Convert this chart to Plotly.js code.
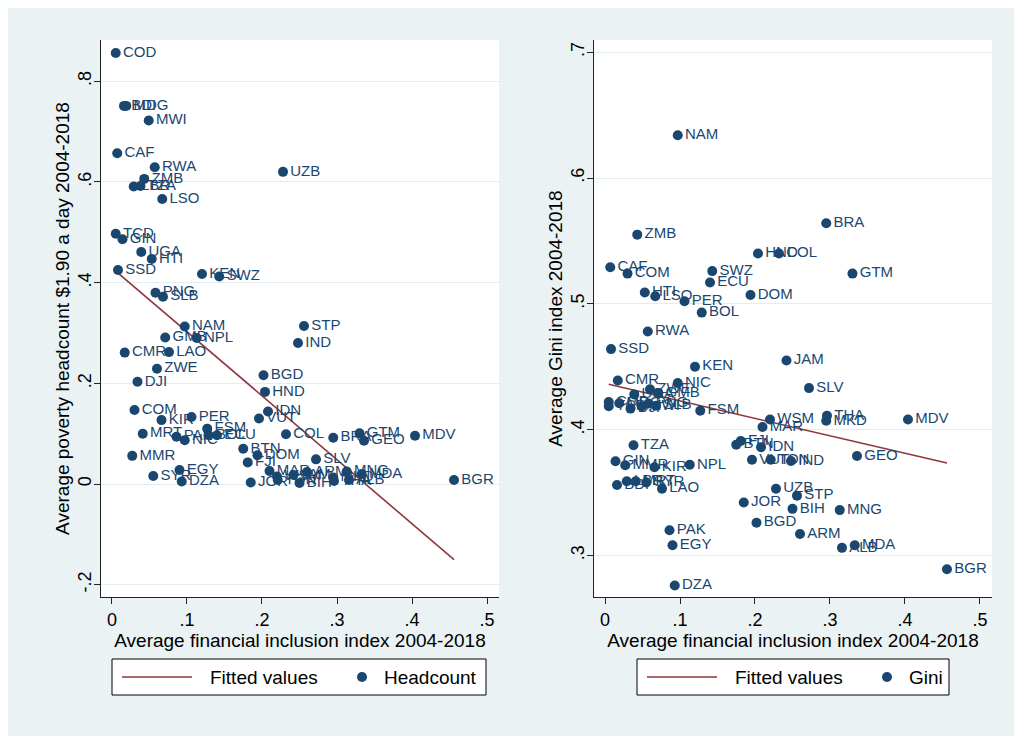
<!DOCTYPE html>
<html>
<head>
<meta charset="utf-8">
<script src="https://cdn.plot.ly/plotly-3.0.1.min.js"></script>
<style>
  html, body { margin:0; padding:0; background:#ffffff; width:1014px; height:736px; overflow:hidden; }
  #chart { position:absolute; left:8px; top:8px; width:1006px; height:728px; }
</style>
</head>
<body>
<div id="chart"></div>
<script>
// ---- data ----
const countries = ['COD','BDI','MDG','MWI','CAF','RWA','ZMB','LBR','TZA','LSO','UZB','TCD','GIN','UGA','HTI','SSD','KEN','SWZ','PNG','SLB','NAM','GMB','NPL','STP','IND','CMR','LAO','ZWE','DJI','BGD','HND','COM','IDN','KIR','PER','VUT','MRT','FSM','PAK','NIC','BOL','ECU','COL','BRA','GTM','GEO','MDV','MMR','BTN','DOM','FJI','SLV','EGY','SYR','DZA','JOR','BIH','MAR','WSM','TON','JAM','ARM','THA','MKD','MNG','ALB','MDA','BGR'];
const finIndex = [0.005,0.016,0.019,0.049,0.007,0.057,0.043,0.029,0.038,0.067,0.228,0.005,0.014,0.039,0.053,0.008,0.120,0.143,0.058,0.068,0.097,0.071,0.113,0.256,0.248,0.017,0.076,0.060,0.034,0.202,0.204,0.030,0.208,0.066,0.106,0.196,0.041,0.127,0.086,0.097,0.129,0.140,0.232,0.295,0.330,0.336,0.404,0.027,0.175,0.194,0.181,0.272,0.090,0.055,0.093,0.185,0.250,0.210,0.220,0.221,0.242,0.260,0.296,0.295,0.313,0.316,0.333,0.456];
const headcount = [0.856,0.751,0.751,0.722,0.657,0.629,0.606,0.591,0.592,0.566,0.620,0.497,0.486,0.461,0.447,0.425,0.417,0.412,0.380,0.372,0.313,0.291,0.290,0.314,0.280,0.261,0.262,0.229,0.203,0.216,0.183,0.147,0.144,0.127,0.133,0.130,0.100,0.110,0.094,0.087,0.097,0.097,0.099,0.092,0.101,0.086,0.096,0.056,0.070,0.057,0.043,0.049,0.028,0.016,0.005,0.003,0.002,0.026,0.015,0.008,0.018,0.024,0.006,0.013,0.025,0.008,0.020,0.008];
const gini = [0.422,0.356,0.421,0.4185,0.529,0.478,0.555,0.359,0.3875,0.506,0.353,0.4185,0.3748,0.428,0.509,0.464,0.450,0.526,0.4207,0.419,0.634,0.429,0.372,0.3475,0.375,0.439,0.353,0.432,0.4167,0.326,0.540,0.524,0.386,0.370,0.502,0.376,0.359,0.415,0.320,0.437,0.493,0.517,0.540,0.564,0.524,0.379,0.408,0.3716,0.388,0.507,0.391,0.433,0.308,0.358,0.276,0.342,0.337,0.402,0.408,0.376,0.455,0.317,0.411,0.407,0.336,0.306,0.308,0.289];
const fitX = [0.005, 0.456];
const headFit = [0.423, -0.150];
const giniFit = [0.4360, 0.3734];
const xTicks = [0, 0.1, 0.2, 0.3, 0.4, 0.5];
const xTickText = ['0', '.1', '.2', '.3', '.4', '.5'];
const headTicks = [-0.2, 0, 0.2, 0.4, 0.6, 0.8];
const headTickText = ['-.2', '0', '.2', '.4', '.6', '.8'];
const giniTicks = [0.3, 0.4, 0.5, 0.6, 0.7];
const giniTickText = ['.3', '.4', '.5', '.6', '.7'];
const xTitle = 'Average financial inclusion index 2004-2018';
const headTitle = 'Average poverty headcount $1.90 a day 2004-2018';
const giniTitle = 'Average Gini index 2004-2018';
const fitName = 'Fitted values';
const headName = 'Headcount';
const giniName = 'Gini';

// ---- styles ----
const NAVY = '#1a476f';
const MAROON = '#90353b';
const FONT = 'Liberation Sans, Arial, Helvetica, sans-serif';
const W = 1006, H = 728, OFF = 8;
const px = X => (X - OFF) / W;          // page pixel -> paper x
const py = Y => 1 - (Y - OFF) / H;      // page pixel -> paper y

function fitTrace(y, xa, ya) {
  return { x: fitX, y: y, xaxis: xa, yaxis: ya, mode: 'lines', name: fitName,
    line: { color: MAROON, width: 1.6 }, showlegend: false, hoverinfo: 'skip' };
}
function ptsTrace(y, name, xa, ya) {
  return { x: finIndex, y: y, text: countries, xaxis: xa, yaxis: ya, mode: 'markers+text', name: name,
    marker: { color: NAVY, size: 10 }, textposition: 'middle right',
    textfont: { color: NAVY, size: 15, family: FONT }, cliponaxis: false, showlegend: false };
}

const data = [
  fitTrace(headFit, 'x', 'y'),
  ptsTrace(headcount, headName, 'x', 'y'),
  fitTrace(giniFit, 'x2', 'y2'),
  ptsTrace(gini, giniName, 'x2', 'y2')
];

// ---- legends (one boxed key under each panel) ----
const shapes = [], annotations = [];
function addLegend(left, right, label2) {
  const top = 659, bot = 695, mid = 677;
  shapes.push({ type: 'rect', xref: 'paper', yref: 'paper', x0: px(left), x1: px(right), y0: py(bot), y1: py(top),
    line: { color: '#000', width: 1 }, fillcolor: '#ffffff', layer: 'above' });
  shapes.push({ type: 'line', xref: 'paper', yref: 'paper', x0: px(left + 10), x1: px(left + 80), y0: py(mid), y1: py(mid),
    line: { color: MAROON, width: 1.6 }, layer: 'above' });
  shapes.push({ type: 'circle', xref: 'paper', yref: 'paper', x0: px(left + 245), x1: px(left + 255), y0: py(mid + 5), y1: py(mid - 5),
    line: { color: NAVY, width: 0 }, fillcolor: NAVY, layer: 'above' });
  annotations.push({ xref: 'paper', yref: 'paper', x: px(left + 96), y: py(mid), xanchor: 'left', yanchor: 'middle',
    text: fitName, showarrow: false, font: { size: 19, color: '#000', family: FONT } });
  annotations.push({ xref: 'paper', yref: 'paper', x: px(left + 270), y: py(mid), xanchor: 'left', yanchor: 'middle',
    text: label2, showarrow: false, font: { size: 19, color: '#000', family: FONT } });
}
addLegend(112, 486, headName);
addLegend(637, 949, giniName);

const titleFont = { size: 19, color: '#000' };
const xBase = { range: [-0.0147, 0.516], tickvals: xTicks, ticktext: xTickText, showline: true,
  linecolor: '#222', linewidth: 1, ticks: 'outside', ticklen: 6, tickcolor: '#222', showgrid: false,
  zeroline: false, tickfont: { size: 18, color: '#000' }, title: { text: xTitle, font: titleFont, standoff: 2 } };
const yBase = { showline: true, linecolor: '#222', linewidth: 1, ticks: 'outside', ticklen: 6, tickcolor: '#222',
  showgrid: true, gridcolor: '#E3ECEE', gridwidth: 1, zeroline: false, tickangle: -90, ticklabelstandoff: -4,
  tickfont: { size: 18, color: '#000' } };

const layout = {
  width: W, height: H,
  margin: { l: 0, r: 0, t: 0, b: 0 },
  paper_bgcolor: '#EAF2F3',
  plot_bgcolor: '#FFFFFF',
  font: { family: FONT, color: '#000' },
  showlegend: false,
  xaxis: Object.assign({}, xBase, { domain: [0.0924, 0.4881], anchor: 'y' }),
  yaxis: Object.assign({}, yBase, { domain: [0.1909, 0.956], anchor: 'x', range: [-0.2244, 0.8818],
    tickvals: headTicks, ticktext: headTickText, title: { text: headTitle, font: titleFont, standoff: 0 } }),
  xaxis2: Object.assign({}, xBase, { domain: [0.5825, 0.9781], anchor: 'y2' }),
  yaxis2: Object.assign({}, yBase, { domain: [0.1909, 0.956], anchor: 'x2', range: [0.2669, 0.7097],
    tickvals: giniTicks, ticktext: giniTickText, title: { text: giniTitle, font: titleFont, standoff: 0 } }),
  shapes: shapes,
  annotations: annotations
};

Plotly.newPlot('chart', data, layout, { staticPlot: true, displayModeBar: false });
</script>
</body>
</html>
